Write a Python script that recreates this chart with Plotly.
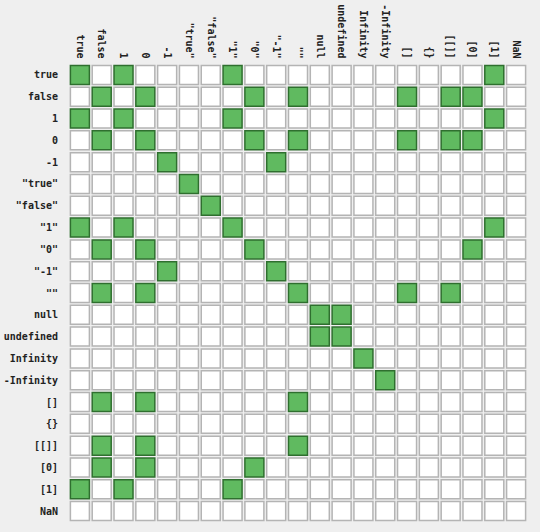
import plotly.graph_objects as go

labels = ['true', 'false', '1', '0', '-1', '"true"', '"false"', '"1"', '"0"', '"-1"',
          '""', 'null', 'undefined', 'Infinity', '-Infinity', '[]', '{}', '[[]]', '[0]', '[1]', 'NaN']

# pairs that are loosely equal (==), by row label
equal_to = {
    'true': ['true', '1', '"1"', '[1]'],
    'false': ['false', '0', '"0"', '""', '[]', '[[]]', '[0]'],
    '1': ['true', '1', '"1"', '[1]'],
    '0': ['false', '0', '"0"', '""', '[]', '[[]]', '[0]'],
    '-1': ['-1', '"-1"'],
    '"true"': ['"true"'],
    '"false"': ['"false"'],
    '"1"': ['true', '1', '"1"', '[1]'],
    '"0"': ['false', '0', '"0"', '[0]'],
    '"-1"': ['-1', '"-1"'],
    '""': ['false', '0', '""', '[]', '[[]]'],
    'null': ['null', 'undefined'],
    'undefined': ['null', 'undefined'],
    'Infinity': ['Infinity'],
    '-Infinity': ['-Infinity'],
    '[]': ['false', '0', '""'],
    '{}': [],
    '[[]]': ['false', '0', '""'],
    '[0]': ['false', '0', '"0"'],
    '[1]': ['true', '1', '"1"'],
    'NaN': [],
}

xs_t, ys_t, xs_f, ys_f = [], [], [], []
for r in labels:
    for c in labels:
        if c in equal_to[r]:
            xs_t.append(c); ys_t.append(r)
        else:
            xs_f.append(c); ys_f.append(r)

fig = go.Figure()
fig.add_trace(go.Scatter(
    x=xs_f, y=ys_f, mode='markers', hoverinfo='skip',
    marker=dict(symbol='square', size=19, color='#ffffff',
                line=dict(color='#b4b4b4', width=1.5))))
fig.add_trace(go.Scatter(
    x=xs_t, y=ys_t, mode='markers', hoverinfo='skip',
    marker=dict(symbol='square', size=19, color='#60ba60',
                line=dict(color='#2f6f2f', width=1.5))))

fig.update_layout(
    width=540, height=532,
    margin=dict(l=69, r=13, t=64, b=10),
    paper_bgcolor='#efefef', plot_bgcolor='#efefef',
    showlegend=False,
    font=dict(family='DejaVu Sans Mono', color='#222222'),
)
fig.update_xaxes(
    type='category', categoryorder='array', categoryarray=labels,
    side='top', tickangle=90, showgrid=False, zeroline=False, showline=False,
    ticks='', ticklabelstandoff=3, automargin=False,
    tickfont=dict(size=10, family='DejaVu Sans Mono', color='#222222', weight='bold'),
    range=[-0.5, len(labels) - 0.5], fixedrange=True)
fig.update_yaxes(
    type='category', categoryorder='array', categoryarray=labels,
    showgrid=False, zeroline=False, showline=False, ticks='',
    ticklabelstandoff=10, automargin=False,
    tickfont=dict(size=10, family='DejaVu Sans Mono', color='#222222', weight='bold'),
    range=[len(labels) - 0.5, -0.5], fixedrange=True)

fig.write_html('out.html', config={'displayModeBar': False},
               post_script="document.body.style.margin='0';"
                           "document.body.style.background='#efefef';")
